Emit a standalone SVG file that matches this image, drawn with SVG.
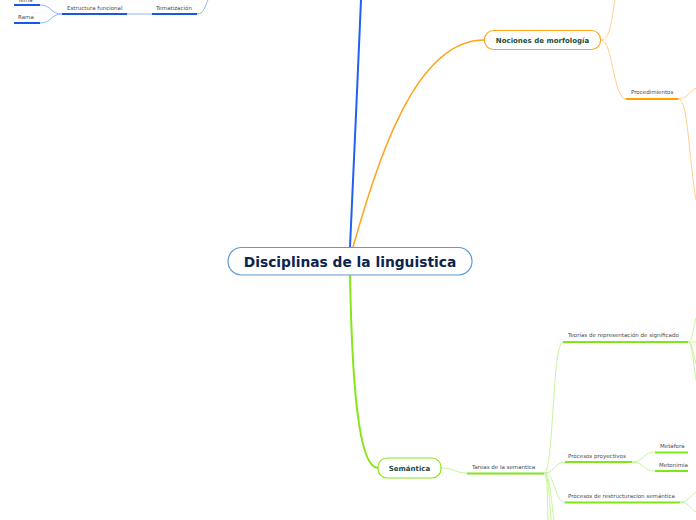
<svg xmlns="http://www.w3.org/2000/svg" width="696" height="520" viewBox="0 0 696 520">
<style>
.lbl{font-family:"DejaVu Sans",Verdana,sans-serif;font-size:5.5px;fill:#4a4a4a}
.nt{font-family:"DejaVu Sans",Verdana,sans-serif;font-weight:bold;font-size:7px;fill:#1c4d3a}
.ub{stroke:#1a56e8;stroke-width:2;fill:none}
.uo{stroke:#ffa000;stroke-width:2;fill:none}
.ug{stroke:#80e61a;stroke-width:2;fill:none}
.lb{stroke:#92b4ff;stroke-width:1;fill:none}
.lo{stroke:#ffd08a;stroke-width:1;fill:none}
.lg{stroke:#c6f59a;stroke-width:1;fill:none}
</style>
<rect width="696" height="520" fill="#ffffff"/>
<g id="connectors">
  <path d="M350,247 C353,170 358,80 361,0" stroke="#2360f0" stroke-width="2" fill="none"/>
  <path d="M353,247 C378,160 415,40 484,40" stroke="#ffa41c" stroke-width="1.5" fill="none"/>
  <path d="M350,275 C352,380 358,468 378,468" stroke="#86e61a" stroke-width="2" fill="none"/>
  <path class="lb" d="M40,5 C52,5 50,14 62,14"/>
  <path class="lb" d="M40,23 C52,23 50,14 62,14"/>
  <path class="lb" d="M127,14 L152,14"/>
  <path class="lb" d="M197,14 C204,14 205,6 208,0"/>
  <path class="lo" d="M601,40 C611,40 612,15 615,0"/>
  <path class="lo" d="M601,40 C613,40 613,99 626,99"/>
  <path class="lo" d="M678,99 C688,99 690,90 696,88"/>
  <path class="lo" d="M678,99 C688,99 688,150 696,200"/>
  <path class="lg" d="M441,468 C455,468 455,473 467,473"/>
  <path class="lg" d="M544,473 C554,473 552,342 563,342"/>
  <path class="lg" d="M544,473 C556,473 554,462 565,462"/>
  <path class="lg" d="M544,473 C556,473 554,502 565,502"/>
  <path class="lg" d="M544,473 C548,473 547,500 548,520"/>
  <path class="lg" d="M544,473 C549,473 549,500 551,520"/>
  <path class="lg" d="M544,473 C550,473 551,500 554,520"/>
  <path class="lg" d="M632,462 C644,462 643,452 655,452"/>
  <path class="lg" d="M632,462 C644,462 643,471 655,471"/>
  <path class="lg" d="M688,342 C692,342 693,330 696,318"/>
  <path class="lg" d="M688,342 L696,342"/>
  <path class="lg" d="M688,342 C692,342 693,352 696,364"/>
  <path class="lg" d="M688,342 C692,342 693,360 696,380"/>
  <path class="lg" d="M680,502 C688,502 690,496 696,492"/>
  <path class="lg" d="M680,502 C688,502 690,508 696,512"/>
</g>
<g id="central">
  <rect x="228" y="247.5" width="244" height="27.5" rx="13.5" fill="#ffffff" stroke="#5a9bd5" stroke-width="1.2"/>
  <text x="350" y="266.5" text-anchor="middle" font-family="'DejaVu Sans',Verdana,sans-serif" font-weight="bold" font-size="13.8" fill="#0d2350">Disciplinas de la linguistica</text>
</g>
<g id="tema">
  <text class="lbl" x="18" y="1.5">Tema</text>
  <path class="ub" d="M14,5 L40,5"/>
</g>
<g id="rama">
  <text class="lbl" x="18" y="19">Rama</text>
  <path class="ub" d="M14,23 L40,23"/>
</g>
<g id="estructura-funcional">
  <text class="lbl" x="67" y="9.8">Estructura funcional</text>
  <path class="ub" d="M62,14 L127,14"/>
</g>
<g id="tematizacion">
  <text class="lbl" x="156" y="9.8">Tematización</text>
  <path class="ub" d="M152,14 L197,14"/>
</g>
<g id="nociones-morfologia">
  <rect x="484.5" y="30.5" width="116" height="19" rx="9" fill="#ffffff" stroke="#ffa41c" stroke-width="1.2"/>
  <text class="nt" x="542.5" y="42.5" text-anchor="middle">Nociones de morfología</text>
</g>
<g id="procedimientos">
  <text class="lbl" x="631" y="94">Procedimientos</text>
  <path class="uo" d="M626,99 L678,99"/>
</g>
<g id="semantica">
  <rect x="378" y="458" width="63" height="20" rx="9" fill="#ffffff" stroke="#86e61a" stroke-width="1.2"/>
  <text class="nt" x="409.5" y="470.5" text-anchor="middle">Semántica</text>
</g>
<g id="tareas-semantica">
  <text class="lbl" x="472" y="468.5">Tareas de la semantica</text>
  <path class="ug" d="M467,473.5 L544,473.5"/>
</g>
<g id="teorias-representacion">
  <text class="lbl" x="568" y="337">Teorías de representación de significado</text>
  <path class="ug" d="M563,342 L688,342"/>
</g>
<g id="procesos-proyectivos">
  <text class="lbl" x="568" y="457.5">Procesos proyectivos</text>
  <path class="ug" d="M565,462 L632,462"/>
</g>
<g id="metafora">
  <text class="lbl" x="660" y="448">Metáfora</text>
  <path class="ug" d="M655,452.5 L688,452.5"/>
</g>
<g id="metonimia">
  <text class="lbl" x="659" y="466.5">Metonimia</text>
  <path class="ug" d="M655,471 L688,471"/>
</g>
<g id="procesos-restructuracion">
  <text class="lbl" x="568" y="498">Procesos de restructuracion semántica</text>
  <path class="ug" d="M565,502.5 L680,502.5"/>
</g>
</svg>
